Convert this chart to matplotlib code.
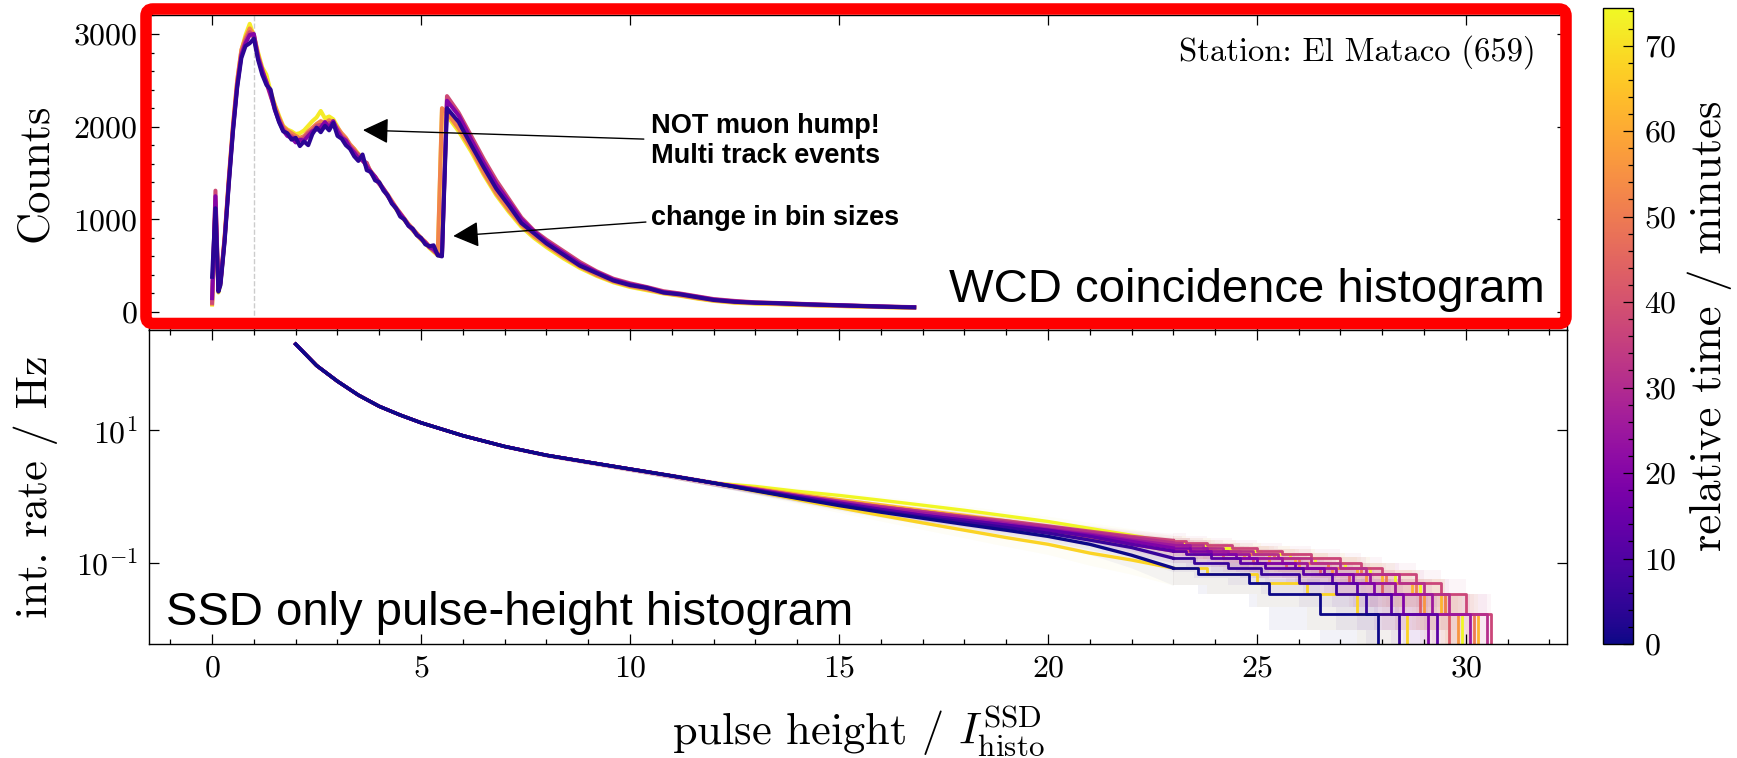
import numpy as np
import matplotlib.pyplot as plt
from matplotlib import cm, colors, ticker
from matplotlib.patches import FancyBboxPatch

plt.rcParams.update({
    'font.family': 'serif',
    'font.serif': ['cmr10'],
    'mathtext.fontset': 'cm',
    'axes.formatter.use_mathtext': True,
    'axes.unicode_minus': False,
    'axes.linewidth': 1.0,
})

# WCD coincidence histogram: pulse height bins and counts per time slice
wcd_x = [0.00, 0.08, 0.15, 0.20, 0.30, 0.40, 0.50, 0.60, 0.70, 0.80,
         0.90, 1.00, 1.10, 1.20, 1.30, 1.40, 1.50, 1.60, 1.70, 1.80,
         1.90, 2.00, 2.10, 2.20, 2.30, 2.40, 2.50, 2.60, 2.70, 2.80,
         2.90, 3.00, 3.10, 3.20, 3.30, 3.40, 3.50, 3.60, 3.70, 3.80,
         3.90, 4.00, 4.10, 4.20, 4.30, 4.40, 4.50, 4.60, 4.70, 4.80,
         4.90, 5.00, 5.10, 5.20, 5.30, 5.40, 5.50,
         5.62, 5.90, 6.20, 6.50, 6.80, 7.10, 7.40, 7.70, 8.00,
         8.40, 8.80, 9.20, 9.60, 10.00,
         10.40, 10.80, 11.20, 11.60, 12.00,
         12.50, 13.00, 13.50, 14.00, 14.50, 15.00, 15.50, 16.00, 16.50, 16.80]

wcd_time = [72, 52, 38, 20, 4]

wcd_counts_72 = [80, 1150, 210, 300, 790, 1430, 2010, 2490, 2820, 2990,
                 3110, 2980, 2800, 2640, 2560, 2380, 2240, 2120, 2010, 1970,
                 1950, 1920, 1930, 1960, 2010, 2060, 2100, 2170, 2090, 2110,
                 2080, 2000, 1910, 1870, 1800, 1760, 1710, 1640, 1600, 1510,
                 1460, 1390, 1330, 1260, 1190, 1110, 1050, 990, 940, 880,
                 830, 780, 740, 690, 650, 610, 2180,
                 2120, 1950, 1730, 1480, 1260, 1080, 920, 800, 700,
                 580, 475, 390, 320, 270,
                 235, 200, 175, 145, 120,
                 100, 90, 84, 76, 70, 64, 58, 53, 48, 46]

wcd_counts_52 = [90, 1200, 230, 330, 820, 1450, 2020, 2500, 2830, 2960,
                 3060, 2990, 2780, 2600, 2490, 2360, 2230, 2100, 2000, 1960,
                 1930, 1900, 1880, 1900, 1950, 1990, 2030, 2060, 2040, 2070,
                 2050, 1990, 1930, 1880, 1810, 1760, 1690, 1640, 1580, 1520,
                 1460, 1400, 1330, 1270, 1200, 1130, 1070, 1010, 950, 900,
                 850, 800, 760, 710, 670, 640, 2200,
                 2150, 1980, 1760, 1500, 1280, 1100, 940, 820, 720,
                 600, 490, 400, 330, 280,
                 245, 205, 180, 150, 125,
                 105, 95, 88, 80, 72, 66, 60, 55, 50, 48]

wcd_counts_38 = [100, 1310, 240, 320, 800, 1420, 1990, 2460, 2790, 2930,
                 3020, 2960, 2760, 2620, 2470, 2330, 2200, 2080, 1980, 1920,
                 1900, 1870, 1850, 1880, 1930, 1960, 2010, 2020, 2000, 2040,
                 2020, 1970, 1900, 1860, 1790, 1740, 1700, 1630, 1610, 1500,
                 1440, 1380, 1320, 1250, 1190, 1120, 1060, 1000, 940, 890,
                 840, 790, 750, 700, 660, 620, 620,
                 2330, 2150, 1900, 1650, 1420, 1220, 1020, 880, 780,
                 660, 540, 440, 360, 310,
                 270, 225, 200, 170, 140,
                 120, 105, 98, 90, 82, 75, 68, 62, 56, 53]

wcd_counts_20 = [150, 1250, 230, 310, 780, 1400, 1970, 2440, 2770, 2900,
                 2990, 3000, 2740, 2600, 2480, 2350, 2180, 2060, 1960, 1900,
                 1880, 1830, 1860, 1850, 1900, 1950, 1970, 1990, 2050, 1990,
                 2060, 1950, 1880, 1850, 1770, 1720, 1660, 1640, 1570, 1510,
                 1460, 1390, 1330, 1260, 1180, 1120, 1060, 1000, 930, 890,
                 830, 790, 750, 700, 680, 620, 610,
                 2280, 2120, 1860, 1610, 1380, 1190, 1000, 870, 760,
                 640, 520, 430, 350, 300,
                 265, 215, 195, 165, 135,
                 115, 102, 96, 88, 80, 73, 66, 60, 54, 51]

wcd_counts_04 = [380, 1120, 220, 290, 760, 1380, 1950, 2420, 2740, 2870,
                 2900, 2950, 2720, 2560, 2450, 2400, 2190, 2050, 1950, 1930,
                 1860, 1880, 1790, 1840, 1800, 1920, 1990, 1940, 2010, 1960,
                 2040, 1900, 1870, 1800, 1760, 1680, 1630, 1700, 1530, 1510,
                 1420, 1400, 1310, 1260, 1170, 1120, 1030, 1000, 930, 900,
                 830, 800, 730, 710, 720, 610, 600,
                 2200, 2050, 1800, 1560, 1330, 1150, 960, 850, 740,
                 620, 500, 420, 340, 290,
                 260, 210, 190, 160, 130,
                 110, 100, 95, 85, 78, 72, 65, 58, 52, 50]

wcd_counts = [wcd_counts_72, wcd_counts_52, wcd_counts_38, wcd_counts_20, wcd_counts_04]

# SSD integrated rate: common steep part, per-slice middle part, largest events
live_time = 60.0
ssd_head_x = [2.0, 2.5, 3.0, 3.5, 4.0, 4.5, 5.0, 6.0, 7.0, 8.0, 9.0, 10.0, 11.0, 12.0]
ssd_head_rate = [200, 95, 55, 34, 23, 17, 13, 8.3, 5.7, 4.2, 3.3, 2.6, 2.05, 1.6]
ssd_mid_x = [13, 14, 15, 16, 17, 18, 19, 20, 21, 22, 23]

ssd_time = [0, 6, 12, 19, 25, 31, 37, 43, 50, 56, 62, 68, 74]
ssd_mid_rate = [
    [1.22, 0.94, 0.73, 0.58, 0.47, 0.38, 0.31, 0.25, 0.19, 0.13, 0.083],
    [1.24, 0.96, 0.76, 0.60, 0.49, 0.41, 0.34, 0.28, 0.22, 0.17, 0.117],
    [1.26, 1.00, 0.80, 0.64, 0.52, 0.44, 0.37, 0.31, 0.25, 0.19, 0.150],
    [1.25, 0.98, 0.78, 0.63, 0.52, 0.44, 0.37, 0.31, 0.26, 0.21, 0.167],
    [1.27, 1.01, 0.82, 0.67, 0.56, 0.47, 0.39, 0.32, 0.27, 0.22, 0.183],
    [1.30, 1.04, 0.85, 0.70, 0.59, 0.49, 0.41, 0.35, 0.29, 0.24, 0.200],
    [1.29, 1.03, 0.84, 0.70, 0.59, 0.50, 0.43, 0.36, 0.30, 0.25, 0.217],
    [1.24, 0.97, 0.77, 0.62, 0.51, 0.43, 0.36, 0.30, 0.24, 0.19, 0.150],
    [1.31, 1.05, 0.86, 0.71, 0.59, 0.49, 0.41, 0.34, 0.28, 0.22, 0.183],
    [1.28, 1.01, 0.81, 0.66, 0.54, 0.45, 0.38, 0.32, 0.26, 0.21, 0.167],
    [1.34, 1.09, 0.90, 0.75, 0.62, 0.52, 0.43, 0.35, 0.29, 0.23, 0.183],
    [1.20, 0.90, 0.68, 0.52, 0.40, 0.31, 0.24, 0.19, 0.14, 0.11, 0.083],
    [1.42, 1.20, 1.04, 0.88, 0.74, 0.62, 0.51, 0.42, 0.33, 0.26, 0.200],
]
ssd_events = [
    [23.6, 24.8, 25.3, 26.5, 27.9],
    [23.5, 24.3, 25.1, 26.0, 26.9, 27.6, 28.4],
    [23.3, 23.9, 24.6, 25.2, 26.1, 26.8, 27.4, 28.2, 29.3],
    [23.4, 23.9, 24.5, 25.0, 25.9, 26.6, 27.3, 27.8, 28.5, 29.1],
    [23.4, 23.8, 24.3, 24.8, 25.6, 26.2, 26.9, 27.7, 28.3, 29.2, 30.1],
    [23.2, 23.7, 24.2, 24.9, 25.5, 26.3, 27.0, 27.6, 28.4, 29.0, 29.6, 30.5],
    [23.3, 23.8, 24.4, 25.0, 25.6, 26.3, 27.0, 27.5, 28.0, 28.8, 29.4, 30.0, 30.6],
    [23.5, 24.2, 24.9, 25.7, 26.5, 27.2, 28.0, 28.9, 29.6],
    [23.4, 23.9, 24.6, 25.4, 26.0, 26.7, 27.5, 28.1, 28.8, 29.5, 30.2],
    [23.5, 24.1, 24.7, 25.3, 26.0, 26.8, 27.6, 28.3, 29.0, 29.8],
    [23.4, 24.0, 24.6, 25.3, 25.9, 26.7, 27.4, 28.0, 28.7, 29.4, 30.3],
    [23.8, 25.0, 26.2, 27.4, 28.6],
    [23.3, 23.9, 24.5, 25.1, 25.8, 26.4, 27.1, 27.7, 28.3, 28.9, 29.5, 29.9],
]

cmap = plt.get_cmap('plasma')
norm = colors.Normalize(vmin=0, vmax=74.4)

W, H = 1737, 758
fig = plt.figure(figsize=(W / 100, H / 100), dpi=100)
ax_top = fig.add_axes([149 / W, 1 - 330 / H, 1418 / W, 315 / H])
ax_bot = fig.add_axes([149 / W, 1 - 644 / H, 1418 / W, 314 / H], sharex=ax_top)
cax = fig.add_axes([1603 / W, 1 - 644 / H, 30 / W, 636 / H])

# top: WCD histogram
ax_top.axvline(1.0, color='0.8', ls='--', lw=1.0, zorder=0)
for t, counts in zip(wcd_time, wcd_counts):
    ax_top.plot(wcd_x, counts, color=cmap(norm(t)), lw=2.9)

ax_top.set_ylim(-194, 3205)
ax_top.yaxis.set_major_locator(ticker.MultipleLocator(1000))
ax_top.yaxis.set_minor_locator(ticker.MultipleLocator(200))
ax_top.set_ylabel('Counts', fontsize=32)
ax_top.text(0.978, 0.883, 'Station: El Mataco (659)', transform=ax_top.transAxes,
            ha='right', va='center', fontsize=23.5)

arrow = dict(arrowstyle='-|>', mutation_scale=40, lw=1.0, color='black',
             shrinkA=0, shrinkB=0)
ax_top.annotate('', xy=(3.61, 1963), xytext=(10.33, 1866), arrowprops=arrow)
ax_top.annotate('', xy=(5.77, 820), xytext=(10.38, 971), arrowprops=arrow)
note = dict(family='Liberation Sans', fontweight='bold', fontsize=19.5,
            ha='left', va='baseline')
ax_top.text(10.5, 1931, 'NOT muon hump!', **note)
ax_top.text(10.5, 1607, 'Multi track events', **note)
ax_top.text(10.5, 938, 'change in bin sizes', **note)

# bottom: SSD integrated rate
order = np.argsort(ssd_time)[::-1]
for i in order:
    c = cmap(norm(ssd_time[i]))
    x = np.array(ssd_head_x + ssd_mid_x, dtype=float)
    r = np.array(ssd_head_rate + ssd_mid_rate[i], dtype=float)
    err = np.sqrt(r * live_time) / live_time
    ax_bot.fill_between(x, r - err, r + err, color=c, alpha=0.04, lw=0)
    xt = np.array([ssd_mid_x[-1]] + ssd_events[i], dtype=float)
    nt = np.arange(len(ssd_events[i]), -1, -1)
    rt = nt / live_time
    et = np.sqrt(nt) / live_time
    ax_bot.fill_between(xt, rt - et, rt + et, step='post', color=c, alpha=0.05, lw=0)
for i in order:
    c = cmap(norm(ssd_time[i]))
    ax_bot.plot(ssd_head_x + ssd_mid_x, ssd_head_rate + ssd_mid_rate[i], color=c, lw=2.4)
    xt = [ssd_mid_x[-1]] + ssd_events[i]
    rt = np.arange(len(ssd_events[i]), -1, -1) / live_time
    ax_bot.step(xt, rt, where='post', color=c, lw=2.0)

ax_bot.set_yscale('log')
ax_bot.set_ylim(0.00593, 327)
ax_bot.yaxis.set_major_locator(ticker.FixedLocator([0.1, 10]))
ax_bot.yaxis.set_minor_locator(ticker.NullLocator())
ax_bot.set_xlim(-1.51, 32.42)
ax_bot.xaxis.set_major_locator(ticker.MultipleLocator(5))
ax_bot.xaxis.set_minor_locator(ticker.MultipleLocator(1))
ax_bot.set_ylabel('int. rate / Hz', fontsize=32)
ax_bot.set_xlabel(r'pulse height / $I^{\mathrm{SSD}}_{\mathrm{histo}}$', fontsize=32)

for ax in (ax_top, ax_bot):
    ax.tick_params(which='both', direction='in', labelsize=23, top=True, right=True, width=0.9)
    ax.tick_params(which='major', length=7.2, pad=8)
    ax.tick_params(which='minor', length=3.6)
    lab = ax.yaxis.label
    lab.set_rotation_mode('default')
    lab.set_va('center')
    ax.yaxis.set_label_coords(-0.080, 0.5)
ax_top.tick_params(which='minor', top=False, right=False)
ax_top.tick_params(labelbottom=False)
ax_bot.xaxis.label.set_va('center')
ax_bot.xaxis.set_label_coords(0.5, -0.277)

# colorbar for the time slices
sm = cm.ScalarMappable(norm=norm, cmap=cmap)
cb = fig.colorbar(sm, cax=cax)
cb.set_ticks(list(range(0, 71, 10)))
cb.ax.yaxis.set_minor_locator(ticker.MultipleLocator(2))
cb.ax.tick_params(which='both', direction='in', labelsize=23, width=0.9)
cb.ax.tick_params(which='major', length=7.2, pad=8)
cb.ax.tick_params(which='minor', length=3.6)
cb.outline.set_linewidth(1.0)
cb.set_label('relative time / minutes', fontsize=32)
cl = cb.ax.yaxis.label
cl.set_rotation_mode('default')
cl.set_va('center')
cl.set_ha('center')
cb.ax.yaxis.set_label_coords(3.57, 0.5)

# panel captions and highlight frame
fig.text(1545 / W, 1 - 302 / H, 'WCD coincidence histogram', family='Liberation Sans',
         fontsize=34, ha='right', va='baseline')
fig.text(166 / W, 1 - 625 / H, 'SSD only pulse-height histogram', family='Liberation Sans',
         fontsize=34, ha='left', va='baseline')
frame = FancyBboxPatch((1.46, (H - 323.5) / 100), 14.20, 3.145,
                       boxstyle='round,pad=0,rounding_size=0.07',
                       transform=fig.dpi_scale_trans, fill=False,
                       edgecolor='#ff0000', lw=8.3, zorder=10)
fig.add_artist(frame)

fig.savefig('out.png', dpi=100)
